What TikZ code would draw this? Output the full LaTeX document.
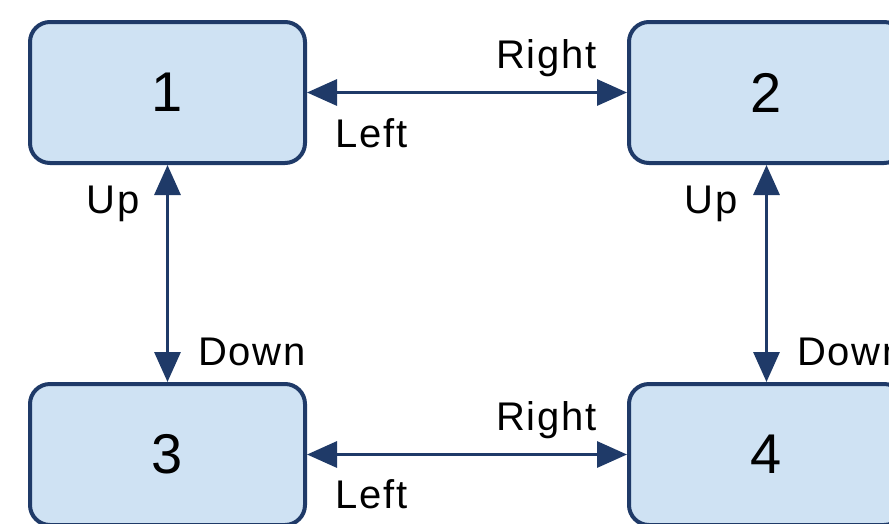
\documentclass[tikz,border=0pt]{standalone}
\usepackage{fontspec}
\setmainfont{Liberation Sans}
\newfontfamily\movefont[LetterSpace=4.5]{Liberation Sans}
\usetikzlibrary{arrows.meta}

\definecolor{boxblue}{RGB}{207,226,243}
\definecolor{edgeblue}{RGB}{31,58,104}

\begin{document}
\begin{tikzpicture}[x=1pt, y=-1pt,
  >={Triangle[length=30pt, width=26pt]},
  state/.style={draw=edgeblue, fill=boxblue, line width=4pt,
    rounded corners=20pt, minimum width=275pt, minimum height=141pt,
    inner sep=0pt, font=\fontsize{56}{60}\selectfont},
  move/.style={<->, draw=edgeblue, line width=3.2pt},
  lbl/.style={inner sep=0pt, font=\movefont\fontsize{40}{44}\selectfont}]

\useasboundingbox (0,0) rectangle (889,523);
\clip (0,0) rectangle (889,523);

% --- States ---
\node[state] (s1) at (167.5, 92.5) {1};
\node[state] (s2) at (766.5, 92.5) {2};
\node[state] (s3) at (167.5, 454.5) {3};
\node[state] (s4) at (766.5, 454.5) {4};

% --- Moves between states ---
\draw[move] (s1) -- (s2);
\draw[move] (s3) -- (s4);
\draw[move] (s1) -- (s3);
\draw[move] (s2) -- (s4);

% Top row labels
\node[lbl, anchor=base east] (r12) at (597, 68) {Right};
\node[lbl, anchor=base west] (l12) at (335, 147) {Left};

% Bottom row labels
\node[lbl, anchor=base east] (r34) at (597, 430) {Right};
\node[lbl, anchor=base west] (l34) at (335, 508) {Left};

% Left column labels
\node[lbl, anchor=base east] (u13) at (140, 213) {Up};
\node[lbl, anchor=base west] (d13) at (198, 365) {Down};

% Right column labels
\node[lbl, anchor=base east] (u24) at (738, 213) {Up};
\node[lbl, anchor=base west] (d24) at (797, 365) {Down};

\end{tikzpicture}
\end{document}
